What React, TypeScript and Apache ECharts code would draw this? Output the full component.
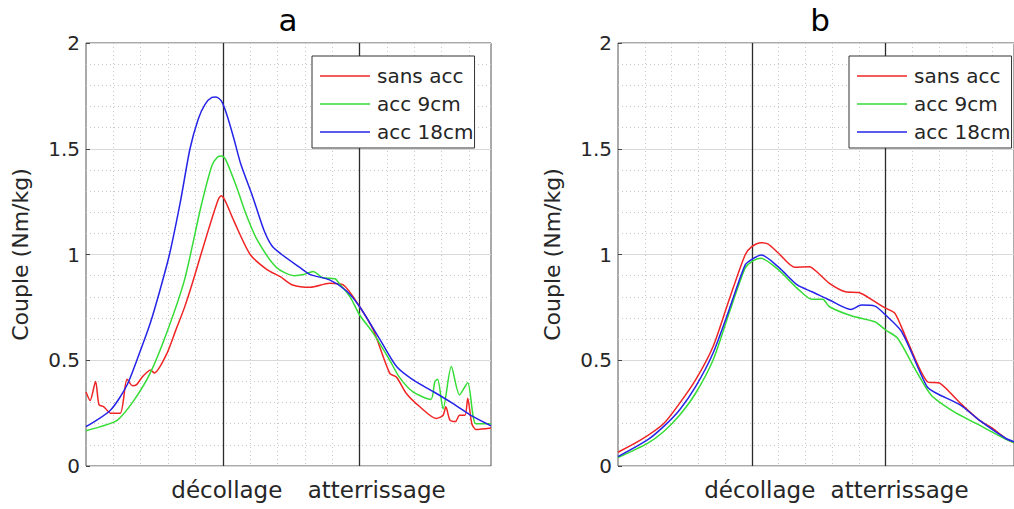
import React, { useEffect, useRef } from "react";
import * as echarts from "echarts";

// ---- Data (x in phase units: 1 = décollage, 2 = atterrissage) ----
const seriesNames = ["sans acc", "acc 9cm", "acc 18cm"];
const seriesColors = ["#f02424", "#36dc36", "#2424e8"];
const DECOLLAGE = 1;
const ATTERRISSAGE = 2;
const yTicks = [0, 0.5, 1, 1.5, 2];

// Panel a
const aSansAcc: [number, number][] = [
  [0.0, 0.35], [0.03, 0.31], [0.07, 0.4], [0.095, 0.29], [0.13, 0.28], [0.18, 0.25],
  [0.25, 0.25], [0.3, 0.41], [0.34, 0.38], [0.37, 0.385], [0.41, 0.42], [0.44, 0.44],
  [0.47, 0.454], [0.5, 0.44], [0.59, 0.53], [0.655, 0.64], [0.72, 0.75], [0.78, 0.87],
  [0.84, 1.0], [0.93, 1.19], [0.97, 1.265], [0.99, 1.278], [1.02, 1.25], [1.08, 1.16],
  [1.2, 1.0], [1.32, 0.93], [1.42, 0.895], [1.51, 0.856], [1.64, 0.845], [1.78, 0.864],
  [1.88, 0.856], [2.0, 0.753], [2.1, 0.643], [2.22, 0.438], [2.27, 0.42], [2.34, 0.344],
  [2.44, 0.28], [2.56, 0.225], [2.61, 0.24], [2.63, 0.28], [2.66, 0.217], [2.7, 0.21],
  [2.73, 0.24], [2.77, 0.24], [2.79, 0.32], [2.82, 0.2], [2.85, 0.173], [2.96, 0.18],
];
const aAcc9: [number, number][] = [
  [0.0, 0.167], [0.1, 0.185], [0.23, 0.217], [0.35, 0.31], [0.47, 0.44], [0.59, 0.63],
  [0.72, 0.88], [0.84, 1.226], [0.92, 1.42], [0.96, 1.46], [0.99, 1.466], [1.02, 1.45],
  [1.1, 1.32], [1.17, 1.19], [1.25, 1.07], [1.39, 0.94], [1.52, 0.9], [1.59, 0.905],
  [1.66, 0.92], [1.73, 0.89], [1.82, 0.885], [1.85, 0.864], [1.93, 0.8], [2.0, 0.714],
  [2.1, 0.627], [2.22, 0.5], [2.29, 0.42], [2.39, 0.35], [2.52, 0.315], [2.55, 0.4],
  [2.57, 0.41], [2.61, 0.27], [2.67, 0.47], [2.73, 0.336], [2.79, 0.394], [2.85, 0.2],
  [2.96, 0.2],
];
const aAcc18: [number, number][] = [
  [0.0, 0.186], [0.18, 0.265], [0.3, 0.383], [0.4, 0.55], [0.47, 0.676], [0.54, 0.83],
  [0.61, 1.0], [0.69, 1.25], [0.76, 1.5], [0.82, 1.64], [0.87, 1.71], [0.92, 1.743],
  [0.95, 1.745], [0.99, 1.725], [1.03, 1.66], [1.08, 1.55], [1.13, 1.43], [1.22, 1.27],
  [1.3, 1.116], [1.36, 1.04], [1.43, 1.0], [1.56, 0.94], [1.64, 0.905], [1.78, 0.88],
  [1.9, 0.83], [2.0, 0.753], [2.15, 0.596], [2.27, 0.47], [2.39, 0.407], [2.54, 0.351],
  [2.68, 0.296], [2.83, 0.233], [2.96, 0.19],
];

// Panel b
const bSansAcc: [number, number][] = [
  [0.0, 0.065], [0.17, 0.123], [0.34, 0.2], [0.46, 0.296], [0.58, 0.407], [0.71, 0.564],
  [0.83, 0.785], [0.95, 0.998], [1.0, 1.037], [1.07, 1.056], [1.12, 1.05], [1.2, 1.006],
  [1.32, 0.94], [1.43, 0.942], [1.5, 0.91], [1.58, 0.864], [1.7, 0.824], [1.8, 0.82],
  [1.92, 0.777], [2.0, 0.746], [2.07, 0.722], [2.16, 0.596], [2.31, 0.4], [2.41, 0.39],
  [2.56, 0.296], [2.7, 0.217], [2.8, 0.178], [2.9, 0.13], [2.96, 0.11],
];
const bAcc9: [number, number][] = [
  [0.0, 0.04], [0.22, 0.107], [0.34, 0.162], [0.46, 0.24], [0.58, 0.344], [0.71, 0.5],
  [0.83, 0.722], [0.95, 0.935], [1.0, 0.966], [1.07, 0.982], [1.2, 0.927], [1.34, 0.84],
  [1.45, 0.788], [1.53, 0.788], [1.58, 0.753], [1.75, 0.709], [1.92, 0.682], [2.0, 0.643],
  [2.09, 0.604], [2.21, 0.47], [2.34, 0.336], [2.51, 0.257], [2.68, 0.2], [2.9, 0.126],
  [2.96, 0.11],
];
const bAcc18: [number, number][] = [
  [0.0, 0.044], [0.22, 0.123], [0.34, 0.186], [0.46, 0.265], [0.58, 0.375], [0.71, 0.533],
  [0.83, 0.738], [0.95, 0.95], [1.0, 0.977], [1.07, 0.998], [1.2, 0.94], [1.34, 0.856],
  [1.45, 0.824], [1.58, 0.785], [1.74, 0.74], [1.82, 0.761], [1.92, 0.756], [2.0, 0.714],
  [2.12, 0.635], [2.31, 0.375], [2.38, 0.344], [2.56, 0.288], [2.7, 0.217], [2.9, 0.13],
  [2.96, 0.115],
];

const FONT = "DejaVu Sans";
const TXT = "#262626";

function xAxisFor(gridIndex: number, padD: number, padT: number) {
  return {
    type: "value",
    gridIndex,
    min: 0,
    max: 2.96,
    interval: 1,
    axisLine: { show: false },
    axisTick: { show: false },
    minorTick: { show: false, splitNumber: 5 },
    splitLine: { show: false },
    minorSplitLine: { show: true, lineStyle: { color: "#c8c8c8", type: [1, 3], width: 1 } },
    axisLabel: {
      margin: 12,
      color: TXT,
      fontFamily: FONT,
      fontSize: 23,
      showMinLabel: false,
      showMaxLabel: false,
      formatter: (v: number) =>
        Math.abs(v - DECOLLAGE) < 1e-6
          ? "{d|décollage}"
          : Math.abs(v - ATTERRISSAGE) < 1e-6
          ? "{t|atterrissage}"
          : "",
      rich: {
        d: { fontFamily: FONT, fontSize: 23, color: TXT, padding: [0, 0, 0, padD] },
        t: { fontFamily: FONT, fontSize: 23, color: TXT, padding: [0, 0, 0, padT] },
      },
    },
  };
}

function yAxisFor(gridIndex: number) {
  return {
    type: "value",
    gridIndex,
    min: 0,
    max: 2,
    interval: 0.5,
    name: "Couple (Nm/kg)",
    nameLocation: "middle",
    nameGap: 55,
    nameTextStyle: { fontFamily: FONT, fontSize: 22, color: TXT },
    axisLine: { show: false },
    axisTick: { show: true, inside: true, length: 4, lineStyle: { color: "#444" } },
    minorTick: { show: false, splitNumber: 5 },
    splitLine: { show: true, lineStyle: { color: "#d9d9d9", width: 1 } },
    minorSplitLine: { show: true, lineStyle: { color: "#c8c8c8", type: [1, 3], width: 1 } },
    axisLabel: {
      margin: 6,
      color: TXT,
      fontFamily: FONT,
      fontSize: 20,
      formatter: (v: number) => (yTicks.includes(v) ? String(v) : ""),
    },
  };
}

function lineSeries(name: string, color: string, data: [number, number][], idx: number, withMark: boolean) {
  const s: any = {
    type: "line",
    name,
    xAxisIndex: idx,
    yAxisIndex: idx,
    data,
    showSymbol: false,
    symbol: "none",
    smooth: 0.25,
    lineStyle: { color, width: 1.5 },
    itemStyle: { color },
    z: 3,
  };
  if (withMark) {
    s.markLine = {
      silent: true,
      symbol: "none",
      label: { show: false },
      lineStyle: { color: "#2b2b2b", width: 1.3, type: "solid" },
      data: [{ xAxis: DECOLLAGE }, { xAxis: ATTERRISSAGE }],
      z: 2,
    };
  }
  return s;
}

function legendFor(left: number) {
  return {
    left,
    top: 56,
    orient: "vertical",
    data: seriesNames,
    icon: "rect",
    itemWidth: 50,
    itemHeight: 1.5,
    itemGap: 8,
    padding: [10, 1, 6, 8],
    borderColor: "#333",
    borderWidth: 1,
    backgroundColor: "#fff",
    textStyle: { fontFamily: FONT, fontSize: 20, color: TXT, lineHeight: 20, padding: [0, 0, 0, 2] },
    z: 10,
  };
}

export default function App() {
  const ref = useRef<HTMLDivElement>(null);
  useEffect(() => {
    if (!ref.current) return;
    const chart = echarts.init(ref.current, undefined, { renderer: "svg" });
    const aSets = [aSansAcc, aAcc9, aAcc18];
    const bSets = [bSansAcc, bAcc9, bAcc18];
    const option: any = {
      animation: false,
      backgroundColor: "#fff",
      title: [
        { text: "a", left: 288, top: 4, textAlign: "center", padding: 0, textStyle: { fontFamily: FONT, fontSize: 31, fontWeight: "normal", color: "#000" } },
        { text: "b", left: 820, top: 4, textAlign: "center", padding: 0, textStyle: { fontFamily: FONT, fontSize: 31, fontWeight: "normal", color: "#000" } },
      ],
      legend: [legendFor(312), legendFor(849)],
      grid: [
        { left: 86, top: 43, width: 405, height: 423, show: true, borderColor: "#555", borderWidth: 1, backgroundColor: "#fff" },
        { left: 618, top: 43, width: 404, height: 423, show: true, borderColor: "#555", borderWidth: 1, backgroundColor: "#fff" },
      ],
      xAxis: [xAxisFor(0, 8, 34), xAxisFor(1, 16, 28)],
      yAxis: [yAxisFor(0), yAxisFor(1)],
      series: [
        ...aSets.map((d, i) => lineSeries(seriesNames[i], seriesColors[i], d, 0, i === 0)),
        ...bSets.map((d, i) => lineSeries(seriesNames[i], seriesColors[i], d, 1, i === 0)),
      ],
    };
    chart.setOption(option);
    return () => chart.dispose();
  }, []);
  return <div ref={ref} style={{ width: 1014, height: 509, position: "absolute", left: 0, top: 0 }} />;
}
